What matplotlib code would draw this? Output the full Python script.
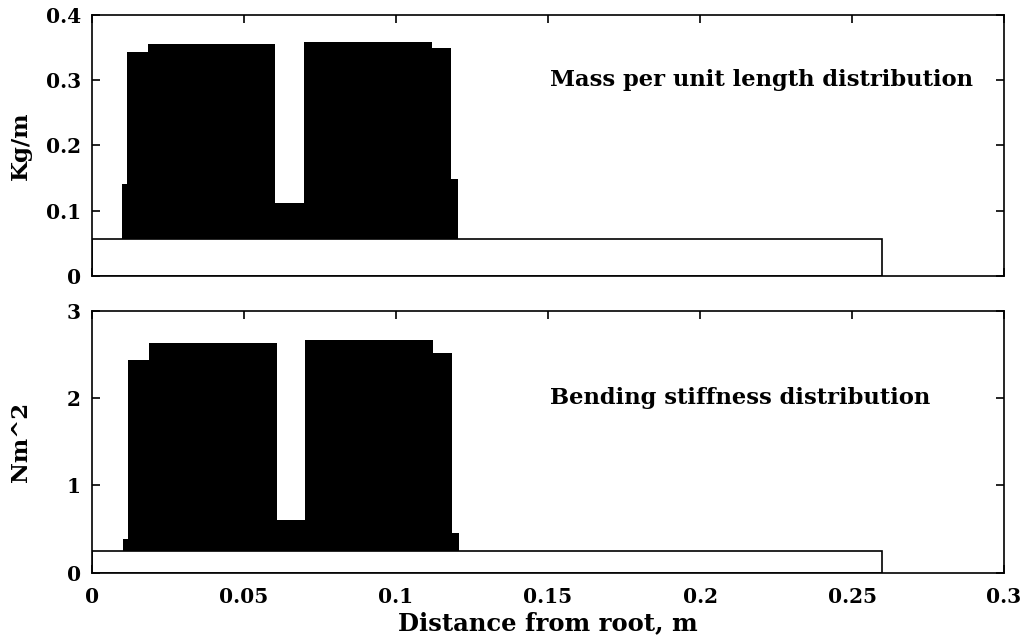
import matplotlib

matplotlib.use("Agg")
import matplotlib.pyplot as plt

# step edges (m) and values for the attached masses / stiffening
mass_edges = [0.01, 0.0115, 0.0185, 0.0603, 0.0698, 0.1117, 0.118, 0.1203]
mass_values = [0.141, 0.343, 0.356, 0.112, 0.358, 0.350, 0.148]
stiff_edges = [0.0101, 0.0119, 0.0186, 0.0607, 0.0700, 0.112, 0.1185, 0.1207]
stiff_values = [0.39, 2.44, 2.63, 0.60, 2.66, 2.51, 0.46]

# bare beam
beam_length = 0.26
beam_mass = 0.056
beam_stiff = 0.245

x_ticks = [0, 0.05, 0.1, 0.15, 0.2, 0.25, 0.3]
x_tick_labels = ["0", "0.05", "0.1", "0.15", "0.2", "0.25", "0.3"]
mass_ticks = [0, 0.1, 0.2, 0.3, 0.4]
mass_tick_labels = ["0", "0.1", "0.2", "0.3", "0.4"]
stiff_ticks = [0, 1, 2, 3]

plt.rcParams["font.family"] = ["DejaVu Serif"]
plt.rcParams["font.weight"] = "bold"
plt.rcParams["axes.labelweight"] = "bold"
plt.rcParams["font.size"] = 14

fig = plt.figure(figsize=(10.26, 6.43), dpi=100)
ax1 = fig.add_axes([0.0897, 0.5708, 0.8889, 0.4059])
ax2 = fig.add_axes([0.0897, 0.1093, 0.8889, 0.4075])

panels = [
    (ax1, mass_edges, mass_values, beam_mass, (0, 0.4), mass_ticks, "Kg/m",
     "Mass per unit length distribution", 0.30),
    (ax2, stiff_edges, stiff_values, beam_stiff, (0, 3), stiff_ticks, "Nm^2",
     "Bending stiffness distribution", 2.0),
]

for ax, edges, values, beam, ylim, yticks, ylabel, note, note_y in panels:
    ax.stairs(values, edges, fill=True, color="black", baseline=0, zorder=1)
    ax.bar(0, beam, width=beam_length, align="edge", facecolor="white",
           edgecolor="black", linewidth=1.2, zorder=2)
    ax.set_xlim(0, 0.3)
    ax.set_ylim(*ylim)
    ax.set_xticks(x_ticks)
    ax.set_yticks(yticks)
    ax.set_ylabel(ylabel, fontsize=16.5)
    ax.text(0.1505, note_y, note, fontsize=16.3, va="center", ha="left")
    ax.tick_params(direction="in", top=True, right=True, length=6, width=1.2,
                   labelsize=14.5)
    ax.tick_params(axis="x", pad=10)
    ax.tick_params(axis="y", pad=8)
    for spine in ax.spines.values():
        spine.set_linewidth(1.2)

ax1.set_yticklabels(mass_tick_labels)
ax1.tick_params(labelbottom=False)
ax2.set_xticklabels(x_tick_labels)
ax2.set_xlabel("Distance from root, m", fontsize=17.5, labelpad=3)
ax1.yaxis.set_label_coords(-0.066, 0.5)
ax2.yaxis.set_label_coords(-0.066, 0.5)

fig.savefig("out.png", dpi=100)
plt.close(fig)
